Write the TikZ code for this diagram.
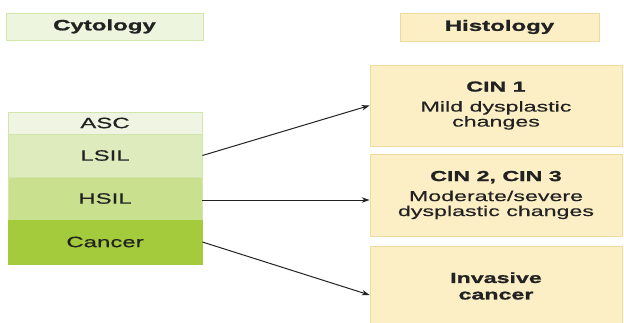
\documentclass[tikz,border=0pt]{standalone}
\usepackage{fontspec}
\setmainfont{Liberation Sans}[FakeStretch=1.6, UprightFeatures={FakeBold=0.4}, BoldFeatures={FakeBold=1.2}]
\usetikzlibrary{arrows.meta}
\definecolor{txt}{HTML}{222222}
\definecolor{cytofill}{HTML}{EEF5DF}
\definecolor{cytoline}{HTML}{D3E6AA}
\definecolor{ascfill}{HTML}{EFF5E2}
\definecolor{lsilfill}{HTML}{DEEBBD}
\definecolor{hsilfill}{HTML}{C9E08F}
\definecolor{cancfill}{HTML}{A4CB3B}
\definecolor{histfill}{HTML}{FCEFC6}
\definecolor{histline}{HTML}{EFDB9E}
\begin{document}
\begin{tikzpicture}[x=1pt,y=-1pt]
\tikzstyle{cytobox}=[rectangle, draw=cytoline, line width=0.8pt, inner sep=0pt, text=txt, font=\fontsize{15}{17}\selectfont]
\tikzstyle{histbox}=[rectangle, draw=histline, fill=histfill, line width=0.8pt, inner sep=0pt, text=txt, align=center, font=\fontsize{14.5}{15}\selectfont]
\tikzstyle{link}=[line width=1pt, draw=txt, -{Stealth[length=8pt,width=5.5pt]}]
\useasboundingbox (0,0) rectangle (624,322);
\node[cytobox, fill=cytofill, minimum width=197pt, minimum height=27pt, font=\fontsize{15}{17}\selectfont\bfseries] (cyto) at (104.5,26.5) {Cytology};
\node[histbox, minimum width=199pt, minimum height=28pt, font=\fontsize{15}{17}\selectfont\bfseries] (hist) at (499.5,27) {Histology};

\node[cytobox, fill=ascfill, minimum width=194pt, minimum height=22pt] (asc) at (105,123) {ASC};
\node[cytobox, fill=lsilfill, minimum width=194pt, minimum height=43pt] (lsil) at (105,155.5) {LSIL};
\node[cytobox, fill=hsilfill, minimum width=194pt, minimum height=43pt] (hsil) at (105,198.5) {HSIL};
\node[cytobox, fill=cancfill, draw=cancfill, minimum width=194pt, minimum height=44pt] (canc) at (105,242) {Cancer};

\node[histbox, minimum width=252pt, minimum height=81pt] (cin1) at (496,105.5) {\textbf{CIN 1}\\[5pt]Mild dysplastic\\changes};
\node[histbox, minimum width=252pt, minimum height=82pt] (cin23) at (496,195) {\textbf{CIN 2, CIN 3}\\[5pt]Moderate/severe\\dysplastic changes};
\node[histbox, minimum width=252pt, minimum height=80pt, font=\fontsize{14.5}{16.5}\selectfont\bfseries] (inv) at (496,286) {Invasive\\cancer};
\coordinate (invin) at ([yshift=-9pt]inv.west);

\draw[link] (lsil.east) -- (cin1.west);
\draw[link] ([yshift=-1.5pt]hsil.east) -- ([yshift=-1.5pt]hsil.east -| cin23.west);
\draw[link] (canc.east) -- (invin);
\end{tikzpicture}
\end{document}
